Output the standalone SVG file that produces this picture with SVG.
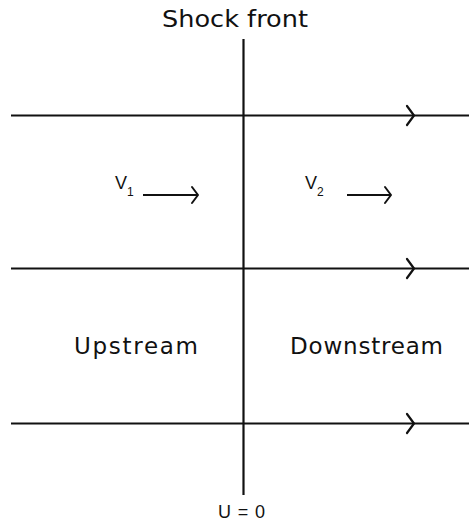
<svg xmlns="http://www.w3.org/2000/svg" width="469" height="524" viewBox="0 0 469 524">
<style>
.ln{stroke:#111;stroke-width:2;fill:none}
.hd{stroke:#111;stroke-width:2.2;fill:none;stroke-linejoin:round;stroke-linecap:round}
.t{font-family:"DejaVu Sans",sans-serif;fill:#111}
.h{font-family:"Liberation Sans",Arial,sans-serif;fill:#111}
</style>
<rect width="469" height="524" fill="#fff"/>
<g id="connectors">
<line class="ln" x1="11" y1="115.5" x2="469" y2="115.5"/>
<polyline class="hd" points="407,106 414,115.5 407,125"/>
<line class="ln" x1="11" y1="268.5" x2="469" y2="268.5"/>
<polyline class="hd" points="407,259 414,268.5 407,278"/>
<line class="ln" x1="11" y1="423.5" x2="469" y2="423.5"/>
<polyline class="hd" points="407,414 414,423.5 407,433"/>
<line class="ln" x1="243.5" y1="39" x2="243.5" y2="495" style="stroke-width:2.2"/>
<line class="ln" x1="143" y1="195" x2="198" y2="195" style="stroke-width:1.8"/>
<polyline class="hd" points="192,187 198,195 192,203" style="stroke-width:2"/>
<line class="ln" x1="347" y1="195" x2="391" y2="195" style="stroke-width:1.8"/>
<polyline class="hd" points="385,187 391,195 385,203" style="stroke-width:2"/>
</g>
<g id="shock-front"><text class="t" x="162" y="27" font-size="23" textLength="146" lengthAdjust="spacingAndGlyphs">Shock front</text></g>
<g id="v1"><text class="h" x="115" y="189" font-size="18">V</text><text class="h" x="127" y="196" font-size="12">1</text></g>
<g id="v2"><text class="h" x="305" y="189" font-size="18">V</text><text class="h" x="317" y="196" font-size="12">2</text></g>
<g id="upstream"><text class="t" x="74" y="354" font-size="23" textLength="124" lengthAdjust="spacing">Upstream</text></g>
<g id="downstream"><text class="t" x="290" y="354" font-size="23" textLength="153" lengthAdjust="spacing">Downstream</text></g>
<g id="u0"><text class="h" x="218" y="518" font-size="18" textLength="47" lengthAdjust="spacing">U = 0</text></g>
</svg>
